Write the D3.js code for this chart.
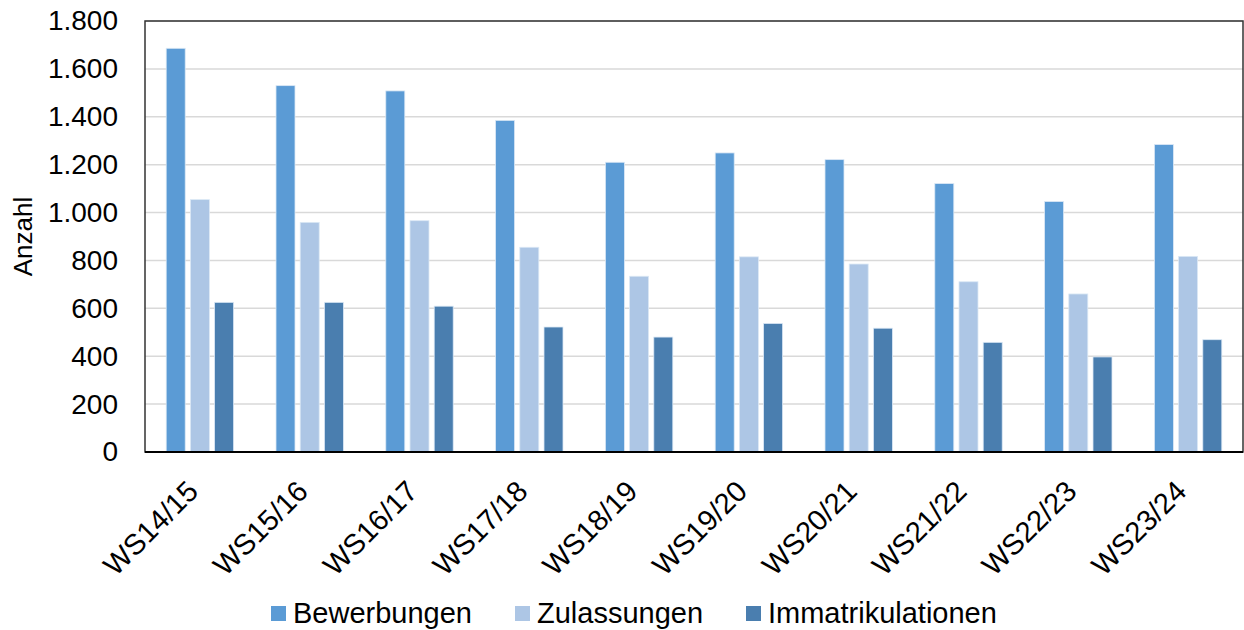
<!DOCTYPE html>
<html>
<head>
<meta charset="utf-8">
<script src="https://cdn.jsdelivr.net/npm/d3@7"></script>
<style>
  body { margin: 0; background: #fff; }
  text { font-family: "Liberation Sans", Arial, sans-serif; fill: #000; }
</style>
</head>
<body>
<div id="chart"></div>
<script>
'use strict';

var semesters = ['WS14/15', 'WS15/16', 'WS16/17', 'WS17/18', 'WS18/19',
                 'WS19/20', 'WS20/21', 'WS21/22', 'WS22/23', 'WS23/24'];
var seriesNames = ['Bewerbungen', 'Zulassungen', 'Immatrikulationen'];
var bewerbungen = [1686, 1530, 1508, 1385, 1210, 1249, 1221, 1121, 1046, 1284];
var zulassungen = [1054, 959, 966, 855, 734, 815, 785, 711, 660, 817];
var immatrikulationen = [625, 625, 609, 522, 480, 537, 517, 458, 397, 469];
var yTicks = [0, 200, 400, 600, 800, 1000, 1200, 1400, 1600, 1800];
var colors = ['#5b9bd5', '#adc6e5', '#4a7eaf'];

var W = 1244, H = 630;
var margin = {top: 21, right: 1, bottom: 178, left: 145};
var iw = W - margin.left - margin.right;
var ih = H - margin.top - margin.bottom;

var svg = d3.select('#chart').append('svg')
    .attr('width', W)
    .attr('height', H);

var g = svg.append('g').attr('transform', 'translate(' + margin.left + ',' + margin.top + ')');

var groupSpan = 67.4;
var x0 = d3.scaleBand().domain(semesters).range([0, iw]).padding(0);
var x1 = d3.scaleBand().domain(seriesNames).range([0, groupSpan]).paddingInner(0.215);
var y = d3.scaleLinear().domain([0, 1800]).range([ih, 0]);

// gridlines
g.append('g')
    .selectAll('line')
    .data(yTicks.slice(1))
    .enter().append('line')
    .attr('x1', 0).attr('x2', iw)
    .attr('y1', function(d){ return y(d); })
    .attr('y2', function(d){ return y(d); })
    .attr('stroke', '#d9d9d9')
    .attr('stroke-width', 1.5);

// bars
var rows = semesters.map(function(s, i) {
    return {sem: s, vals: [bewerbungen[i], zulassungen[i], immatrikulationen[i]]};
});

var grp = g.selectAll('.grp')
    .data(rows)
    .enter().append('g')
    .attr('transform', function(d){
        return 'translate(' + (x0(d.sem) + x0.bandwidth() / 2 - groupSpan / 2) + ',0)';
    });

grp.selectAll('rect')
    .data(function(d){ return d.vals.map(function(v, k){ return {k: k, v: v}; }); })
    .enter().append('rect')
    .attr('x', function(d){ return x1(seriesNames[d.k]); })
    .attr('y', function(d){ return y(d.v); })
    .attr('width', x1.bandwidth())
    .attr('height', function(d){ return ih - y(d.v); })
    .attr('fill', function(d){ return colors[d.k]; })
    .attr('stroke', '#dbe8f5')
    .attr('stroke-width', 0.8);

// frame
g.append('rect')
    .attr('x', 0).attr('y', 0)
    .attr('width', iw).attr('height', ih)
    .attr('fill', 'none')
    .attr('stroke', '#333')
    .attr('stroke-width', 1.5);

g.append('line')
    .attr('x1', 0).attr('x2', iw)
    .attr('y1', ih).attr('y2', ih)
    .attr('stroke', '#000')
    .attr('stroke-width', 2);

// y axis labels
var yAxis = d3.axisLeft(y)
    .tickValues(yTicks)
    .tickSize(0)
    .tickPadding(27)
    .tickFormat(function(d){ return d3.format(',')(d).replace(/,/g, '.'); });

var ya = g.append('g').call(yAxis);
ya.select('.domain').remove();
ya.selectAll('text')
    .style('font-size', '28px')
    .style('font-family', '"Liberation Sans", Arial, sans-serif')
    .attr('fill', '#000');

// x axis labels
var xAxis = d3.axisBottom(x0).tickSize(0).tickPadding(0);
var xa = g.append('g').attr('transform', 'translate(0,' + ih + ')').call(xAxis);
xa.select('.domain').remove();
xa.selectAll('text')
    .style('font-size', '29px')
    .style('font-family', '"Liberation Sans", Arial, sans-serif')
    .attr('fill', '#000')
    .attr('text-anchor', 'end')
    .attr('dy', null)
    .attr('y', 0)
    .attr('transform', 'translate(0,41) rotate(-45)');

// y title
svg.append('text')
    .attr('transform', 'translate(32,' + (margin.top + ih / 2) + ') rotate(-90)')
    .attr('text-anchor', 'middle')
    .style('font-size', '26px')
    .text('Anzahl');

// legend
var legendX = [271, 515, 746];
var leg = svg.append('g').selectAll('g')
    .data(seriesNames)
    .enter().append('g')
    .attr('transform', function(d, i){ return 'translate(' + legendX[i] + ',613.5)'; });

leg.append('rect')
    .attr('x', 0).attr('y', -7.5)
    .attr('width', 15).attr('height', 15)
    .attr('fill', function(d, i){ return colors[i]; });

leg.append('text')
    .attr('x', 22)
    .attr('y', 9.5)
    .style('font-size', '29px')
    .text(function(d){ return d; });
</script>
</body>
</html>
